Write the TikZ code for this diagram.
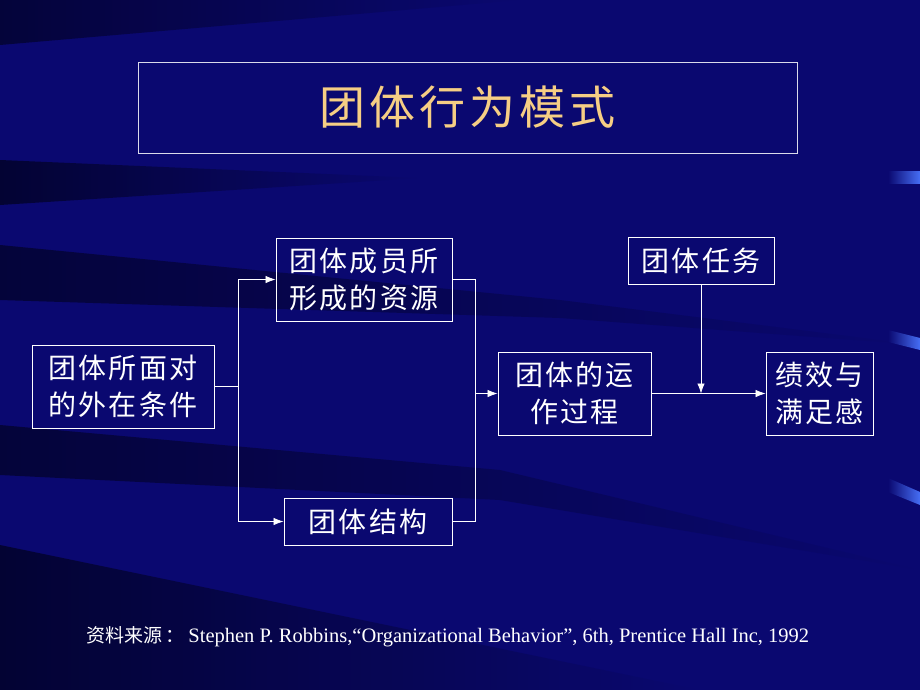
\documentclass[tikz,border=0pt]{standalone}
\usepackage{fontspec}
\setmainfont{Liberation Serif}
\newfontfamily\cjk{Noto Sans CJK SC}
\newfontfamily\cjkwide{Noto Sans CJK SC}[LetterSpace=8]
\usepackage{tikz}
\usetikzlibrary{arrows.meta}
\usepackage{xcolor}

\definecolor{slidebg}{RGB}{10,8,112}
\definecolor{streak}{RGB}{3,3,45}
\definecolor{titlegold}{RGB}{246,206,132}
\definecolor{edgeblue}{RGB}{70,110,245}

\tikzset{
  box/.style={draw=white, line width=0.9pt, text=white, align=center, inner sep=0pt,
    font=\cjkwide\fontsize{28}{37}\selectfont},
  arr/.style={draw=white, line width=0.8pt, -{Latex[length=10pt,width=7.5pt]}},
  link/.style={draw=white, line width=0.8pt},
}

\begin{document}
\begin{tikzpicture}[x=1pt,y=-1pt]

% background
\fill[slidebg] (0,0) rectangle (920,690);
\useasboundingbox (0,0) rectangle (920,690);
\shade[left color=streak, right color=slidebg, opacity=0.8] (0,0) -- (520,0) -- (0,45) -- cycle;
\shade[left color=streak, right color=slidebg, opacity=0.9] (0,160) -- (420,178) -- (0,205) -- cycle;
\shade[left color=streak, right color=slidebg, opacity=0.8] (0,245) -- (560,300) -- (920,345) -- (560,318) -- (0,300) -- cycle;
\shade[left color=streak, right color=slidebg, opacity=0.8] (0,425) -- (500,470) -- (920,570) -- (500,500) -- (0,475) -- cycle;
\shade[left color=streak, right color=slidebg, opacity=0.9] (0,545) -- (700,690) -- (0,690) -- cycle;
\shade[left color=slidebg, right color=edgeblue] (888,171) rectangle (920,183);
\shade[left color=slidebg, right color=edgeblue] (888,330) -- (920,338) -- (920,350) -- (888,342) -- cycle;
\shade[left color=slidebg, right color=edgeblue] (888,478) -- (920,492) -- (920,505) -- (888,492) -- cycle;

% title
\node[draw=white!85!slidebg, line width=0.9pt, minimum width=659pt, minimum height=91pt,
  text=titlegold, font=\cjk\fontsize{46}{50}\selectfont] (title) at (467.5,107.5)
  {\addfontfeature{LetterSpace=9}团体行为模式};

% boxes
\node[box, minimum width=182pt, minimum height=83pt] (ext) at (123,386.5) {团体所面对\\的外在条件};
\node[box, minimum width=176pt, minimum height=83pt] (res) at (364,279.5) {团体成员所\\形成的资源};
\node[box, minimum width=168pt, minimum height=47pt] (str) at (368,521.5) {团体结构};
\node[box, minimum width=153pt, minimum height=83pt] (proc) at (574.5,393.5) {团体的运\\作过程};
\node[box, minimum width=146pt, minimum height=47pt] (task) at (701,260.5) {团体任务};
\node[box, minimum width=107pt, minimum height=83pt] (perf) at (819.5,393.5) {绩效与\\满足感};

% connectors
\coordinate (split) at ([xshift=24pt]ext.east);
\coordinate (join) at ([xshift=23pt]res.east |- proc.west);
\draw[link] (ext.east) -- (split);
\draw[arr] (split) |- (res.west);
\draw[arr] (split) |- (str.west);
\draw[link] (res.east) -| (join);
\draw[link] (str.east) -| (join);
\draw[arr] (join) -- (proc.west);
\draw[arr] (proc.east) -- (perf.west);
\draw[arr] (task.south) -- (task.south |- proc.east);

% source
\node[text=white, font=\fontsize{20.5}{23}\selectfont] (src) at (448,637)
  {{\cjk\fontsize{19}{23}\selectfont 资料来源\,：}\,Stephen P. Robbins,“Organizational Behavior”, 6th, Prentice Hall Inc, 1992};

\end{tikzpicture}
\end{document}
